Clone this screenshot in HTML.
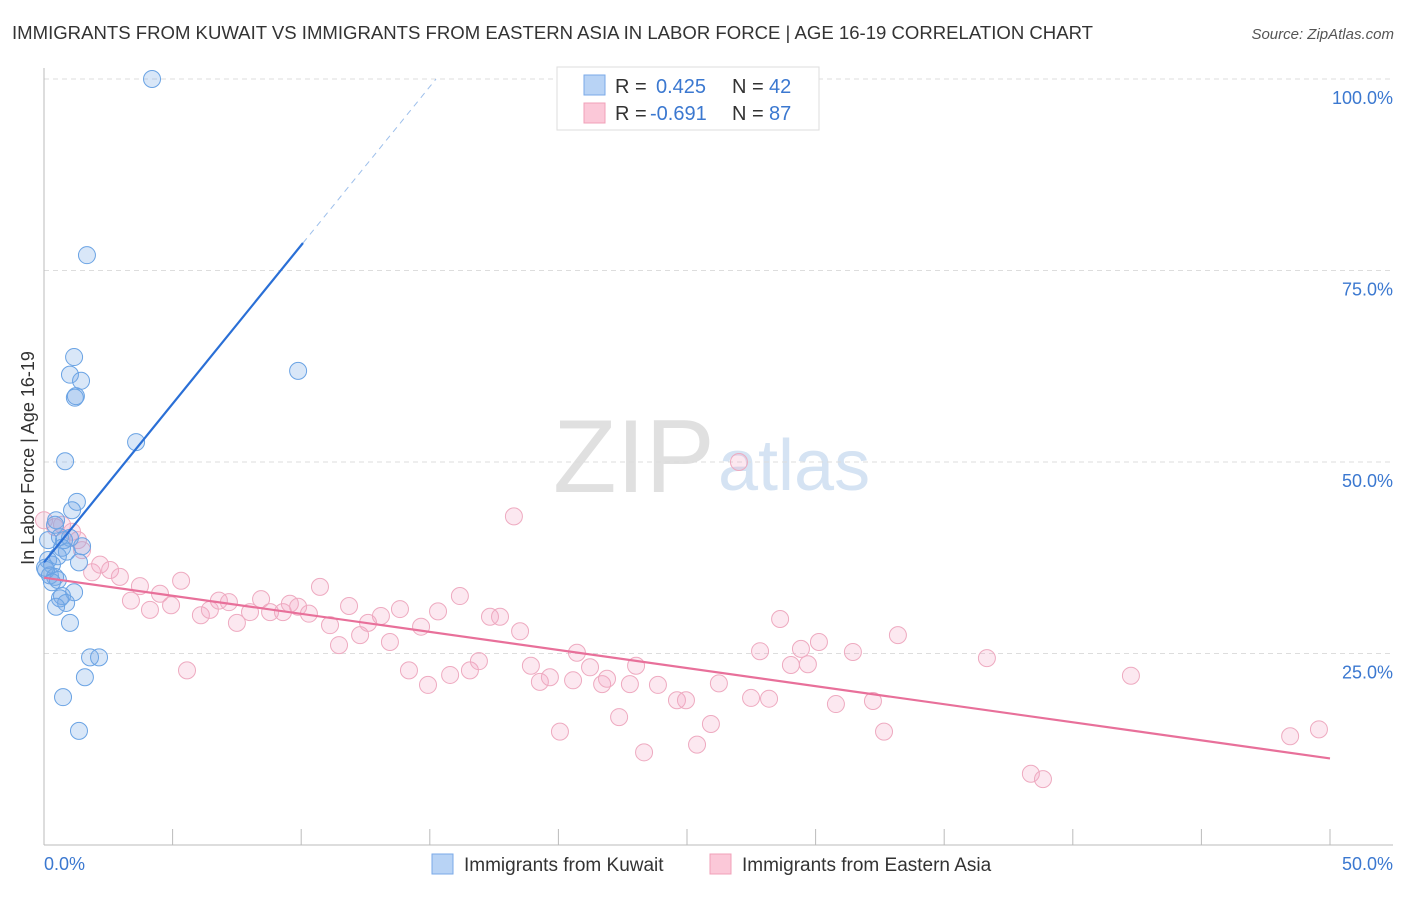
<!DOCTYPE html>
<html><head><meta charset="utf-8"><style>
body{margin:0;background:#fff;font-family:"Liberation Sans",sans-serif}
svg text{font-family:"Liberation Sans",sans-serif}
</style></head><body>
<svg id="c" width="1406" height="892">
<text x="12" y="39" font-size="18" fill="#333" textLength="1081" lengthAdjust="spacingAndGlyphs">IMMIGRANTS FROM KUWAIT VS IMMIGRANTS FROM EASTERN ASIA IN LABOR FORCE | AGE 16-19 CORRELATION CHART</text>
<text x="1394" y="39" font-size="15" fill="#555" font-style="italic" text-anchor="end">Source: ZipAtlas.com</text>
<text x="553" y="492" font-size="104" fill="#e0e0e0" font-family="Liberation Serif">ZIP</text>
<text x="718" y="490" font-size="72" fill="#d5e3f3">atlas</text>
<text transform="translate(34,458) rotate(-90)" font-size="18" fill="#333" text-anchor="middle">In Labor Force | Age 16-19</text>
<g id="grid"></g><g id="pts"></g><g id="lines"></g>
<g>
<rect x="557" y="67" width="262" height="63" fill="#fff" stroke="#ddd"/>
<rect x="584" y="75" width="21" height="20" fill="#b8d3f5" stroke="#7aaae8"/>
<rect x="584" y="103" width="21" height="20" fill="#fbc8d8" stroke="#f0a0b8"/>
<text x="615" y="93" font-size="20" fill="#333">R = </text><text x="656" y="93" font-size="20" fill="#3b78d0">0.425</text>
<text x="732" y="93" font-size="20" fill="#333">N = </text><text x="769" y="93" font-size="20" fill="#3b78d0">42</text>
<text x="615" y="120" font-size="20" fill="#333">R = </text><text x="650" y="120" font-size="20" fill="#3b78d0">-0.691</text>
<text x="732" y="120" font-size="20" fill="#333">N = </text><text x="769" y="120" font-size="20" fill="#3b78d0">87</text>
</g>
<g>
<rect x="432" y="854" width="21" height="20" fill="#b8d3f5" stroke="#7aaae8"/>
<text x="464" y="871" font-size="19" fill="#333">Immigrants from Kuwait</text>
<rect x="710" y="854" width="21" height="20" fill="#fbc8d8" stroke="#f0a0b8"/>
<text x="742" y="871" font-size="19" fill="#333">Immigrants from Eastern Asia</text>
</g>
</svg>
<script>
const yTicks=[100,75,50,25];
const yTickLabels=["100.0%","75.0%","50.0%","25.0%"];
const xTickLabels=["0.0%","50.0%"];
const blueX=[4.2,1.67,1.17,1.01,1.44,1.24,1.2,9.88,3.58,0.82,1.28,1.09,0.47,0.43,0.62,1.01,1.48,1.36,0.89,0.16,0.31,0.08,0.23,0.43,0.54,0.31,1.17,0.7,0.62,0.86,0.47,1.01,1.79,2.14,1.59,0.74,1.36,0.04,0.7,0.16,0.78,0.54];
const blueY=[100,77,63.7,61.4,60.6,58.6,58.4,61.9,52.6,50.1,44.8,43.7,42.4,41.8,40.2,40.1,39,36.9,38.3,37.2,36.6,35.9,35.2,35,34.6,34.3,33,32.5,32.2,31.6,31.1,29,24.5,24.5,21.9,19.3,14.9,36.2,38.8,39.8,39.8,37.7];
const pinkX=[0,0.43,0.7,1.09,1.32,1.48,1.87,2.18,2.57,2.95,3.38,3.73,4.12,4.51,4.94,5.33,5.56,6.1,6.45,6.8,7.19,7.5,8.01,8.44,8.79,9.29,9.56,9.88,10.3,10.73,11.12,11.47,11.86,12.29,12.6,13.1,13.45,13.84,14.19,14.66,14.93,15.32,15.79,16.17,16.56,16.91,17.34,17.73,18.27,18.51,18.93,19.28,19.67,20.06,20.57,20.72,21.23,21.7,21.89,22.36,22.78,23.02,23.33,23.87,24.61,24.96,25.39,25.93,26.24,27.02,27.49,27.84,28.19,28.62,29.04,29.43,29.7,30.13,30.79,31.45,32.23,32.66,33.2,36.66,38.37,38.84,42.26,48.45,49.57];
const pinkY=[42.4,41.5,41.8,40.9,39.8,38.5,35.6,36.6,35.9,35,31.9,33.8,30.7,32.8,31.3,34.5,22.8,30,30.7,31.9,31.7,29,30.4,32.1,30.4,30.4,31.5,31.1,30.2,33.7,28.7,26.1,31.2,27.4,29,29.9,26.5,30.8,22.8,28.5,20.9,30.5,22.2,32.5,22.8,24,29.8,29.8,42.9,27.9,23.4,21.3,21.9,14.8,21.5,25.1,23.2,21,21.7,16.7,21,23.4,12.1,20.9,18.9,18.9,13.1,15.8,21.1,50,19.2,25.3,19.1,29.5,23.5,25.6,23.6,26.5,18.4,25.2,18.8,14.8,27.4,24.4,9.3,8.6,22.1,14.2,15.1];
const blueFit=[36.9,4.14];
const pinkFit=[34.9,-0.472];
const NS="http://www.w3.org/2000/svg";
const X=v=>44+v*25.72, Y=v=>845-v*7.66;
function mk(p,t,a){const e=document.createElementNS(NS,t);for(const k in a)e.setAttribute(k,a[k]);p.appendChild(e);return e;}
const G=document.getElementById('grid'),P=document.getElementById('pts'),L=document.getElementById('lines');
yTicks.forEach((t,i)=>{
 const g=mk(G,'line',{x1:44,x2:1393,y1:Y(t),y2:Y(t),stroke:'#ddd','stroke-dasharray':'5,4'});
 
 
 const tx=mk(G,'text',{x:1393,y:Y(t)+25,'font-size':18,fill:'#3b78d0','text-anchor':'end'});
 tx.textContent=yTickLabels[i];
 
 
});
let ax=mk(G,'line',{x1:44,x2:44,y1:68,y2:845,stroke:'#bbb'});


let bx=mk(G,'line',{x1:44,x2:1393,y1:845,y2:845,stroke:'#bbb'});


for(let i=1;i<=10;i++){const t=mk(G,'line',{x1:X(i*5),x2:X(i*5),y1:829,y2:845,stroke:'#bbb'});
 
 }
[[0,'start',44],[50,'end',1393]].forEach((d,i)=>{const t=mk(G,'text',{x:d[2],y:870,'font-size':18,fill:'#3b78d0','text-anchor':d[1]});t.textContent=xTickLabels[i];
 
 });
pinkX.forEach((v,i)=>{const c=mk(P,'circle',{cx:X(v),cy:Y(pinkY[i]),r:8.5,fill:'rgba(245,165,195,0.25)',stroke:'#eeaac0','stroke-width':1});
 
 });
blueX.forEach((v,i)=>{const c=mk(P,'circle',{cx:X(v),cy:Y(blueY[i]),r:8.5,fill:'rgba(120,170,230,0.28)',stroke:'#6aa3e4','stroke-width':1});
 
 });
const bf=x=>blueFit[0]+blueFit[1]*x, pf=x=>pinkFit[0]+pinkFit[1]*x;
let l1=mk(L,'line',{x1:X(0),y1:Y(bf(0)),x2:X(10.07),y2:Y(bf(10.07)),stroke:'#2a6fd6','stroke-width':2.2});


const xe=(100-blueFit[0])/blueFit[1];
let l2=mk(L,'line',{x1:X(10.07),y1:Y(bf(10.07)),x2:X(xe),y2:Y(100),stroke:'#9dbfeb','stroke-width':1,'stroke-dasharray':'6,5'});


let l3=mk(L,'line',{x1:X(0),y1:Y(pf(0)),x2:X(50),y2:Y(pf(50)),stroke:'#e8709a','stroke-width':2.2});


</script>
</body></html>
